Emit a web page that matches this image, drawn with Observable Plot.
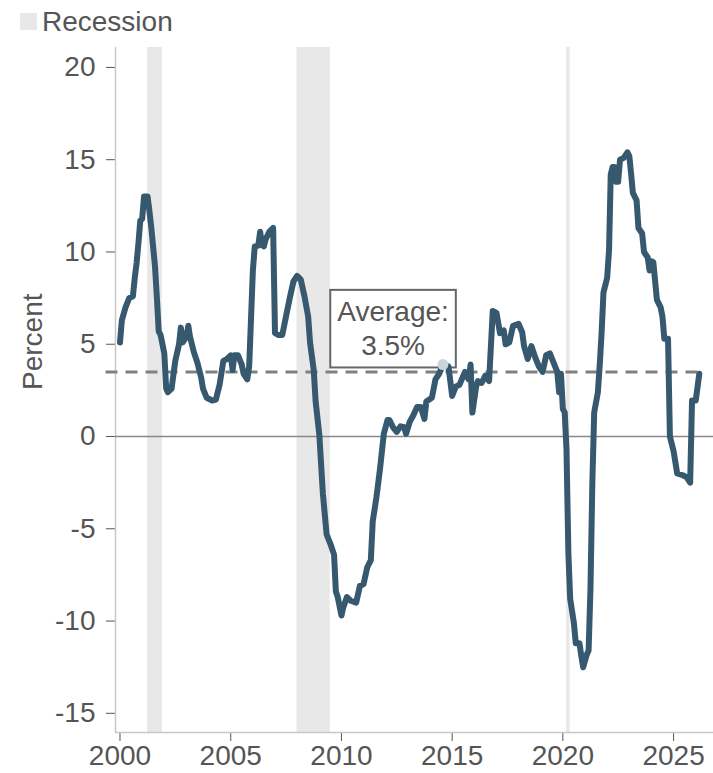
<!DOCTYPE html>
<html>
<head>
<meta charset="utf-8">
<script src="https://cdn.jsdelivr.net/npm/d3@7"></script>
<script src="https://cdn.jsdelivr.net/npm/@observablehq/plot@0.6"></script>
<style>
  html, body { margin: 0; padding: 0; background: #fff; }
  body { width: 713px; font-family: "Liberation Sans", Arial, sans-serif; color: #555; }
  #legend { position: relative; height: 40px; }
  #legend .swatch { position: absolute; left: 20px; top: 13px; width: 17px; height: 17px; background: #e8e8e8; }
  #legend .label { position: absolute; left: 42px; top: 8px; font-size: 28px; line-height: 28px; color: #555; }
  #chart svg { display: block; overflow: visible; }
</style>
</head>
<body>
<div id="legend"><span class="swatch"></span><span class="label">Recession</span></div>
<div id="chart"></div>
<script>
// Year-over-year change, percent
const dates = [
  "2000-01","2000-02","2000-04","2000-06","2000-08","2000-09","2000-10","2000-11","2000-12",
  "2001-01","2001-02","2001-04","2001-05","2001-06","2001-08","2001-09","2001-10","2001-11",
  "2002-01","2002-02","2002-03","2002-05","2002-07","2002-09","2002-10","2002-11",
  "2003-01","2003-02","2003-03","2003-05","2003-07","2003-09","2003-10","2003-12",
  "2004-03","2004-05","2004-07","2004-09","2004-11",
  "2005-01","2005-02","2005-03","2005-05","2005-07","2005-08","2005-10","2005-11",
  "2006-01","2006-02","2006-04","2006-05","2006-06","2006-07","2006-08","2006-10","2006-12",
  "2007-01","2007-03","2007-05","2007-07","2007-09","2007-11",
  "2008-01","2008-03","2008-05","2008-07","2008-08","2008-10","2008-11",
  "2009-01","2009-03","2009-05","2009-07","2009-09","2009-10","2009-11",
  "2010-01","2010-02","2010-04","2010-06","2010-09","2010-11",
  "2011-01","2011-03","2011-05","2011-06","2011-08","2011-10","2011-12",
  "2012-02","2012-03","2012-05","2012-07","2012-09","2012-11","2012-12",
  "2013-02","2013-04","2013-06","2013-08","2013-10","2013-11",
  "2014-02","2014-04","2014-06","2014-08","2014-11",
  "2015-01","2015-03","2015-05","2015-08","2015-10","2015-11","2015-12",
  "2016-02","2016-03","2016-05","2016-07","2016-09","2016-11",
  "2017-01","2017-03","2017-05","2017-06","2017-08","2017-10",
  "2018-01","2018-03","2018-04","2018-06","2018-08","2018-10","2018-12",
  "2019-02","2019-04","2019-06","2019-08","2019-10","2019-11","2019-12",
  "2020-01","2020-02","2020-03","2020-04","2020-05","2020-07","2020-08","2020-10","2020-11","2020-12",
  "2021-02","2021-03","2021-04","2021-05","2021-06","2021-08","2021-09","2021-10","2021-11",
  "2022-01","2022-02","2022-03","2022-04","2022-05","2022-06","2022-07","2022-08","2022-10","2022-12",
  "2023-01","2023-02","2023-03","2023-05","2023-06","2023-08","2023-09","2023-11","2023-12",
  "2024-01","2024-02","2024-04","2024-06","2024-07","2024-08","2024-10","2024-11",
  "2025-01","2025-03","2025-06","2025-08","2025-10","2025-11",
  "2026-01","2026-03"
];
const values = [
  5.1, 6.3, 7.0, 7.5, 7.6, 8.6, 9.4, 10.5, 11.7,
  11.8, 13.0, 13.0, 12.2, 11.3, 9.2, 7.5, 5.7, 5.5,
  4.5, 2.6, 2.4, 2.6, 4.1, 5.0, 5.9, 5.1,
  5.4, 6.0, 5.4, 4.6, 4.0, 3.2, 2.6, 2.1,
  1.95, 2.0, 2.8, 4.1, 4.2,
  4.4, 3.6, 4.4, 4.4, 3.9, 3.4, 3.1, 3.8,
  9.0, 10.3, 10.35, 11.1, 10.4, 10.3, 10.7, 11.1, 11.3,
  5.6, 5.5, 5.5, 6.5, 7.5, 8.4,
  8.7, 8.5, 7.6, 6.5, 5.1, 3.6, 1.9,
  0.1, -3.1, -5.3, -5.8, -6.4, -8.4, -8.7,
  -9.7, -9.25, -8.7, -8.9, -9.0, -8.1,
  -8.0, -7.1, -6.7, -4.6, -3.3, -1.7, 0.15,
  0.9, 0.9, 0.5, 0.25, 0.55, 0.5, 0.15,
  0.8, 1.15, 1.6, 1.6, 0.95, 1.9,
  2.1, 3.1, 3.4, 3.9, 3.8,
  2.2, 2.7, 2.8, 3.5, 3.1, 3.9, 1.3,
  2.7, 3.0, 2.9, 3.3, 3.0, 6.8,
  6.7, 5.6, 5.75, 5.0, 5.1, 6.0,
  6.1, 5.65, 4.9, 4.2, 4.9, 4.3, 3.8,
  3.5, 4.4, 4.5, 4.0, 3.5, 2.4, 3.4,
  1.5, 1.3, -0.7, -6.3, -8.8, -10.1, -11.2, -11.2, -11.9, -12.5,
  -11.8, -11.6, -8.2, -2.6, 1.3, 2.4, 3.9, 5.6, 7.8,
  8.6, 10.1, 14.2, 14.6, 14.6, 13.8, 13.8, 15.0, 15.1, 15.4,
  15.2, 14.2, 13.2, 12.8, 11.3, 11.0, 10.0, 9.7, 9.0,
  9.5, 9.45, 7.4, 7.0, 6.5, 5.3, 5.3, 0.0,
  -0.8, -2.0, -2.1, -2.2, -2.5, 1.95,
  1.95, 3.4
];

// NBER recession periods
const recessionStarts = ["2001-04-01", "2007-12-31", "2020-03-01"];
const recessionEnds   = ["2001-11-30", "2009-06-30", "2020-04-30"];

const average = 3.5;
const averageLabelDate = "2012-05-01";
const averageMarkerDate = "2014-08";
const averageSpan = ["1999-05-15", "2026-04-30"];

const xTicks = ["2000", "2005", "2010", "2015", "2020", "2025"];
const yTicks = [-15, -10, -5, 0, 5, 10, 15, 20];
const xDomain = ["1999-10-19", "2026-10-21"];
const yDomain = [-16.04, 21.08];

const parseMonth = d3.utcParse("%Y-%m");
const parseDay = d3.utcParse("%Y-%m-%d");
const series = dates.map((d, i) => ({date: parseMonth(d), value: values[i], key: d}));
const recessions = recessionStarts.map((s, i) => ({start: parseDay(s), end: parseDay(recessionEnds[i])}));

const lineColor = "#36596f";
const textColor = "#555";

const chart = Plot.plot({
  width: 713,
  height: 733,
  marginTop: 7,
  marginBottom: 41,
  marginLeft: 115,
  marginRight: 0,
  style: {
    fontFamily: "'Liberation Sans', Arial, sans-serif",
    fontSize: "28px",
    color: textColor,
    background: "white",
    overflow: "visible"
  },
  x: {
    type: "utc",
    domain: xDomain.map(parseDay),
    ticks: xTicks.map(y => parseDay(y + "-01-01")),
    tickFormat: d3.utcFormat("%Y"),
    tickSize: 9,
    tickPadding: 4,
    label: null
  },
  y: {
    domain: yDomain,
    ticks: yTicks,
    tickFormat: d => String(d),
    tickSize: 9,
    tickPadding: 11,
    label: null
  },
  marks: [
    Plot.rect(recessions, {x1: "start", x2: "end", fill: "#e8e8e8"}),
    Plot.ruleX([parseDay(xDomain[0])], {stroke: "#c8c8c8", strokeWidth: 1.5}),
    Plot.ruleY([yDomain[0]], {stroke: "#c8c8c8", strokeWidth: 1.5}),
    Plot.ruleY([0], {stroke: "#888", strokeWidth: 1.5}),
    Plot.ruleY([average], {
      x1: () => parseDay(averageSpan[0]),
      x2: () => parseDay(averageSpan[1]),
      stroke: "#808080",
      strokeWidth: 3,
      strokeDasharray: "12,8"
    }),
    Plot.text([average], {
      x: () => parseDay(averageLabelDate),
      y: d => d,
      text: d => `Average:\n${d}%`,
      dy: -44.5,
      fontSize: 28,
      lineHeight: 1.2,
      fill: textColor
    }),
    Plot.line(series, {x: "date", y: "value", stroke: lineColor, strokeWidth: 6, strokeLinejoin: "round"}),
    Plot.dot(series.filter(d => d.key === averageMarkerDate), {
      x: "date", y: "value", r: 5.5, fill: "#c9d4db", stroke: "none"
    }),
    Plot.text(["Percent"], {
      frameAnchor: "left",
      rotate: -90,
      dx: -82,
      fontSize: 28,
      fill: textColor
    })
  ]
});

document.getElementById("chart").appendChild(chart);

// Framed box behind the average label
const labelText = Array.from(chart.querySelectorAll("text")).find(t => t.textContent.startsWith("Average:"));
if (labelText) {
  const bb = labelText.getBBox();
  const padX = 7, padY = 6.5;
  const rect = document.createElementNS("http://www.w3.org/2000/svg", "rect");
  rect.setAttribute("x", bb.x - padX);
  rect.setAttribute("y", bb.y - padY);
  rect.setAttribute("width", bb.width + 2 * padX);
  rect.setAttribute("height", bb.height + 2 * padY);
  rect.setAttribute("fill", "white");
  rect.setAttribute("stroke", "#666");
  rect.setAttribute("stroke-width", 2);
  const t = labelText.getAttribute("transform");
  if (t) rect.setAttribute("transform", t);
  labelText.parentNode.insertBefore(rect, labelText);
}
</script>
</body>
</html>
